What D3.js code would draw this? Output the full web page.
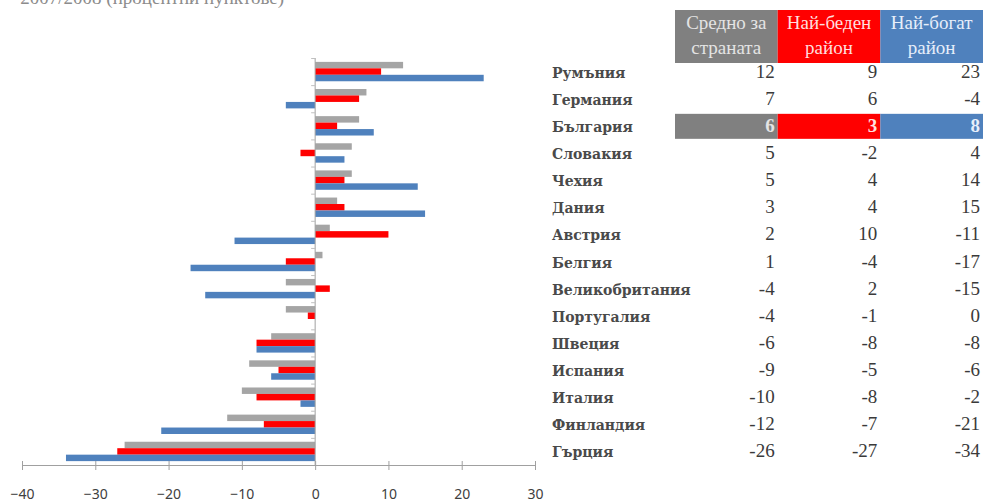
<!DOCTYPE html>
<html lang="bg">
  <head>
    <meta charset="UTF-8" />
    <title>Промяна 2007/2008</title>
    <script src="https://d3js.org/d3.v7.min.js"></script>
    <style>
      body {
        margin: 0;
        background: #fff;
      }
      svg {
        display: block;
      }
      .tick text {
        font-family: "Noto Sans", sans-serif;
        font-size: 14px;
        fill: #404040;
      }
      .serif {
        font-family: "DejaVu Serif", serif;
      }
      .times {
        font-family: "Liberation Serif", serif;
      }
    </style>
  </head>
  <body>
    <svg width="983" height="504"></svg>
    <script>
      // data
      const countries = [
        "Румъния", "Германия", "България", "Словакия", "Чехия",
        "Дания", "Австрия", "Белгия", "Великобритания", "Португалия",
        "Швеция", "Испания", "Италия", "Финландия", "Гърция"
      ];
      const average = [12, 7, 6, 5, 5, 3, 2, 1, -4, -4, -6, -9, -10, -12, -26];
      const poorest = [9, 6, 3, -2, 4, 4, 10, -4, 2, -1, -8, -5, -8, -7, -27];
      const richest = [23, -4, 8, 4, 14, 15, -11, -17, -15, 0, -8, -6, -2, -21, -34];
      const seriesNames = [
        ["Средно за", "страната"],
        ["Най-беден", "район"],
        ["Най-богат", "район"]
      ];
      const xTicks = [-40, -30, -20, -10, 0, 10, 20, 30];
      const highlight = "България";

      const colors = ["#a5a5a5", "#ff0000", "#4f81bd"];
      const headColors = ["#808080", "#ff0000", "#4f81bd"];
      const headText = ["#e4e4e4", "#ffdede", "#e6eefa"];

      const series = [average, poorest, richest];
      const keys = [0, 1, 2];

      const svg = d3.select("svg");

      // partly cut title at top
      svg
        .append("text")
        .attr("class", "times")
        .attr("x", 284)
        .attr("y", 4)
        .attr("text-anchor", "end")
        .attr("fill", "#8c8c8c")
        .attr("font-size", 19)
        .text("2007/2008 (процентни пунктове)");

      const x = d3.scaleLinear().domain([-40, 30]).range([22, 535]);
      const y = d3.scaleBand().domain(countries).range([58, 465]);
      const y1 = d3
        .scaleBand()
        .domain(keys)
        .range([0, y.bandwidth()])
        .paddingOuter(0.6);

      // bars
      const groups = svg
        .append("g")
        .selectAll("g")
        .data(countries)
        .join("g")
        .attr("transform", (d) => `translate(0,${y(d)})`);

      groups
        .selectAll("rect")
        .data((d, i) => keys.map((k) => ({ k, v: series[k][i] })))
        .join("rect")
        .attr("x", (d) => x(Math.min(0, d.v)))
        .attr("width", (d) => Math.abs(x(d.v) - x(0)))
        .attr("y", (d) => y1(d.k))
        .attr("height", y1.bandwidth())
        .attr("fill", (d) => colors[d.k]);

      // x axis
      const xAxis = svg
        .append("g")
        .attr("transform", "translate(0,465)")
        .call(d3.axisBottom(x).tickValues(xTicks).tickSize(5).tickPadding(19));
      xAxis.select(".domain").attr("stroke", "#a0a0a0");
      xAxis.selectAll(".tick line").attr("stroke", "#a0a0a0").attr("y1", -4);

      // vertical axis at zero with band ticks
      svg
        .append("line")
        .attr("x1", x(0))
        .attr("x2", x(0))
        .attr("y1", y.range()[0])
        .attr("y2", y.range()[1])
        .attr("stroke", "#a0a0a0");
      svg
        .append("g")
        .selectAll("line")
        .data(countries)
        .join("line")
        .attr("x1", x(0) - 4)
        .attr("x2", x(0))
        .attr("y1", (d) => y(d) + 0.5)
        .attr("y2", (d) => y(d) + 0.5)
        .attr("stroke", "#c0c0c0");

      // table
      const col = d3.scaleBand().domain(keys).range([675, 983]);

      const head = svg
        .append("g")
        .selectAll("g")
        .data(keys)
        .join("g")
        .attr("transform", (k) => `translate(${col(k)},10)`);
      head
        .append("rect")
        .attr("width", col.bandwidth())
        .attr("height", 53)
        .attr("fill", (k) => headColors[k]);
      head
        .append("text")
        .attr("class", "times")
        .attr("x", col.bandwidth() / 2)
        .attr("text-anchor", "middle")
        .attr("font-size", 19)
        .attr("fill", (k) => headText[k])
        .selectAll("tspan")
        .data((k) => seriesNames[k])
        .join("tspan")
        .attr("x", col.bandwidth() / 2)
        .attr("y", (d, i) => 19 + i * 25)
        .text((d) => d);

      const rows = svg
        .append("g")
        .selectAll("g")
        .data(countries)
        .join("g")
        .attr("transform", (d) => `translate(0,${y(d) + y.bandwidth() / 2})`);

      rows
        .filter((d) => d === highlight)
        .selectAll("rect")
        .data(keys)
        .join("rect")
        .attr("x", (k) => col(k))
        .attr("y", -12)
        .attr("width", col.bandwidth())
        .attr("height", 25)
        .attr("fill", (k) => headColors[k]);

      rows
        .append("text")
        .attr("class", "serif")
        .attr("x", 552)
        .attr("y", 6)
        .attr("font-size", 14)
        .attr("font-weight", "bold")
        .attr("fill", "#4a4a4a")
        .text((d) => d);

      rows
        .selectAll("text.val")
        .data((d, i) =>
          keys.map((k) => ({ k, v: series[k][i], hi: d === highlight }))
        )
        .join("text")
        .attr("class", "val times")
        .attr("x", (d) => col(d.k) + col.bandwidth() - 3)
        .attr("y", 6)
        .attr("text-anchor", "end")
        .attr("font-size", 19)
        .attr("font-weight", (d) => (d.hi ? "bold" : "normal"))
        .attr("fill", (d) => (d.hi ? headText[d.k] : "#3a3a3a"))
        .text((d) => d.v);
    </script>
  </body>
</html>
